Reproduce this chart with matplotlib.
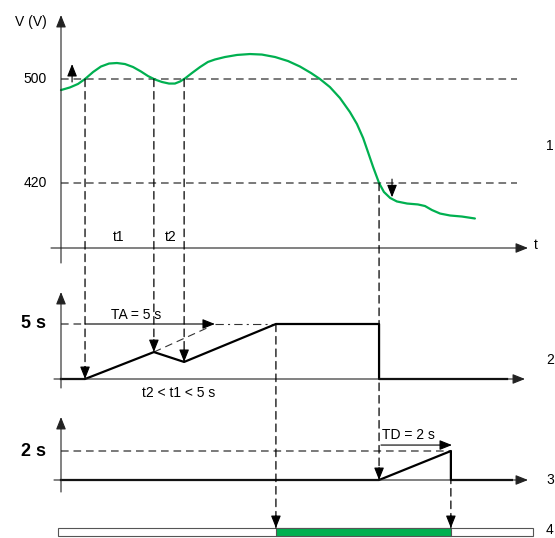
import matplotlib.pyplot as plt
from matplotlib.patches import ConnectionPatch

plt.rcParams['font.family'] = ['Liberation Sans', 'DejaVu Sans']
plt.rcParams['lines.scale_dashes'] = False

# Voltage curve (time in s, voltage in V)
volt_t = [0.0, 0.33, 0.63, 0.89, 1.19, 1.48, 1.78, 2.07, 2.37, 2.67, 2.96, 3.22, 3.48,
          3.74, 4.0, 4.22, 4.41, 4.59, 4.85, 5.15, 5.44, 5.70, 6.07, 6.52, 7.0, 7.44,
          7.93, 8.41, 8.85, 9.26, 9.59, 9.96, 10.33, 10.70, 10.96, 11.19, 11.37, 11.56,
          11.78, 11.96, 12.19, 12.44, 12.82, 13.22, 13.48, 13.74, 14.04, 14.41, 14.85, 15.33]
volt_v = [491.5, 493.5, 496.2, 500, 505.4, 509.6, 511.9, 512.3, 511.5, 509.2, 505.8, 502.3, 499.6,
          497.7, 496.5, 496.5, 498.1, 500.4, 504.6, 509.2, 513.1, 515.0, 516.9, 518.5, 519.2, 518.8,
          516.9, 513.8, 509.6, 504.6, 500, 493.8, 485.4, 474.6, 465.4, 454.6, 443.8, 432.3,
          420, 413.1, 408.5, 405.8, 404.2, 403.5, 402.3, 399.2, 396.5, 395.0, 394.2, 392.7]
v_high = 500
v_low = 420

# Event times
t_up1, t_dn1, t_up2 = 0.89, 3.44, 4.56
t_trip = 7.96
t_drop = 11.78
t_end_d = 14.44
ta_value = 5
td_value = 2

# Timer A and timer D counters
ta_t = [0, t_up1, t_dn1, t_up2, t_trip, t_drop, t_drop, 16.52]
ta_s = [0, 0, 2.45, 1.55, ta_value, ta_value, 0, 0]
td_t = [0, t_drop, t_end_d, t_end_d, 16.70]
td_s = [0, 0, td_value, 0, 0]

green = '#00b050'
dash = (0, (5.5, 3.5))
xlim = (-61 / 27, 494 / 27)
H = 538
head = '-|>,head_length=0.75,head_width=0.3'


def add_ax(top, bottom):
    ax = fig.add_axes([0, 1 - bottom / H, 1, (bottom - top) / H])
    ax.set_xlim(*xlim)
    ax.set_axis_off()
    return ax


def arrow(ax, p0, p1, color='black'):
    ax.annotate('', xy=p1, xytext=p0, annotation_clip=False,
                arrowprops=dict(arrowstyle=head, color=color, lw=0.8, shrinkA=0, shrinkB=0))


def tip(ax, t, y):
    ax.annotate('', xy=(t, y), xytext=(0, 9), textcoords='offset points', annotation_clip=False,
                arrowprops=dict(arrowstyle=head, color='black', lw=0.8, shrinkA=0, shrinkB=0))


def connect(axA, yA, axB, yB, t):
    con = ConnectionPatch(xyA=(t, yA), coordsA='data', axesA=axA,
                          xyB=(t, yB), coordsB='data', axesB=axB,
                          color='black', lw=0.9, linestyle=dash)
    fig.add_artist(con)
    tip(axB, t, yB)


fig = plt.figure(figsize=(5.55, 5.38), dpi=100)

# Top panel: voltage
ax_v = add_ax(0, 260)
ax_v.set_ylim(500 - 181 / 1.3, 500 + 79 / 1.3)
arrow(ax_v, (0, 500 - 184 / 1.3), (0, 500 + 64 / 1.3), '#222')
arrow(ax_v, (-10 / 27, 500 - 169 / 1.3), (467 / 27, 500 - 169 / 1.3), '#222')
for lvl in [v_high, v_low]:
    ax_v.plot([0, 16.89], [lvl, lvl], color='#555', lw=1.1, ls=dash)
    ax_v.text(-14 / 27, lvl, str(lvl), ha='right', va='center', fontsize=10)
ax_v.plot(volt_t, volt_v, color=green, lw=1.6, solid_capstyle='round')
ax_v.text(-30 / 27, 500 + 57 / 1.3, 'V (V)', ha='center', va='center', fontsize=10)
ax_v.text(475 / 27, 500 - 166 / 1.3, 't', ha='center', va='center', fontsize=10)
ax_v.text(2.15, 500 - 158 / 1.3, 't1', ha='center', va='center', fontsize=10)
ax_v.text(4.05, 500 - 158 / 1.3, 't2', ha='center', va='center', fontsize=10)
arrow(ax_v, (0.41, 497.7), (0.41, 511.5))
arrow(ax_v, (12.26, 423), (12.26, 409))

# Timer A panel
ax_a = add_ax(260, 400)
ax_a.set_ylim(-21 / 11, 119 / 11)
arrow(ax_a, (0, -9 / 11), (0, 87 / 11), '#222')
arrow(ax_a, (-7 / 27, 0), (464 / 27, 0), '#222')
ax_a.plot([0, t_up1], [ta_value, ta_value], color='#555', lw=1.1, ls=dash)
arrow(ax_a, (t_up1, ta_value), (5.70, ta_value))
ax_a.plot([5.70, t_trip], [ta_value, ta_value], color='#333', lw=0.8, ls=(0, (6, 3, 1.5, 3)))
ax_a.plot([t_dn1, 5.41], [2.45, 4.64], color='#333', lw=0.8, ls=dash)
ax_a.plot(ta_t, ta_s, color='black', lw=1.6)
ax_a.text(-15 / 27, ta_value, f'{ta_value} s', ha='right', va='center', fontsize=13,
          fontweight='bold')
ax_a.text(2.8, ta_value + 9 / 11, f'TA = {ta_value} s', ha='center', va='center', fontsize=10)
ax_a.text(4.37, -14 / 11, 't2 < t1 < 5 s', ha='center', va='center', fontsize=10)

# Timer D panel
ax_d = add_ax(400, 515)
ax_d.set_ylim(-35 / 14.5, 80 / 14.5)
arrow(ax_d, (0, -12 / 14.5), (0, 63 / 14.5), '#222')
arrow(ax_d, (-7 / 27, 0), (467 / 27, 0), '#222')
ax_d.plot([0, t_end_d], [td_value, td_value], color='#555', lw=1.1, ls=dash)
arrow(ax_d, (11.85, 2.41), (14.48, 2.41))
ax_d.plot(td_t, td_s, color='black', lw=1.6)
ax_d.text(-15 / 27, td_value, f'{td_value} s', ha='right', va='center', fontsize=13,
          fontweight='bold')
ax_d.text(11.9, td_value + 16 / 14.5, f'TD = {td_value} s', ha='left', va='center', fontsize=10)

# Output strip
ax_s = add_ax(528, 536)
ax_s.set_ylim(0, 1)
ax_s.barh(0.5, 17.59, left=-0.11, height=1, color='white', edgecolor='#555', lw=0.8,
          clip_on=False)
ax_s.barh(0.5, t_end_d - t_trip, left=t_trip, height=1, color=green, edgecolor='#555', lw=0.8,
          clip_on=False)

# Dashed connectors between panels
for t in [t_up1, t_dn1, t_up2]:
    y = ta_s[ta_t.index(t)]
    connect(ax_v, v_high, ax_a, y, t)
connect(ax_v, v_low, ax_d, 0, t_drop)
connect(ax_a, ta_value, ax_s, 1, t_trip)
connect(ax_d, td_value, ax_s, 1, t_end_d)

# Panel numbers on the right edge
for lab, y in [('1', 146), ('2', 360), ('3', 480), ('4', 530)]:
    fig.text(546 / 555, 1 - y / H, lab, ha='left', va='center', fontsize=10)

fig.savefig('out.png', dpi=100)
